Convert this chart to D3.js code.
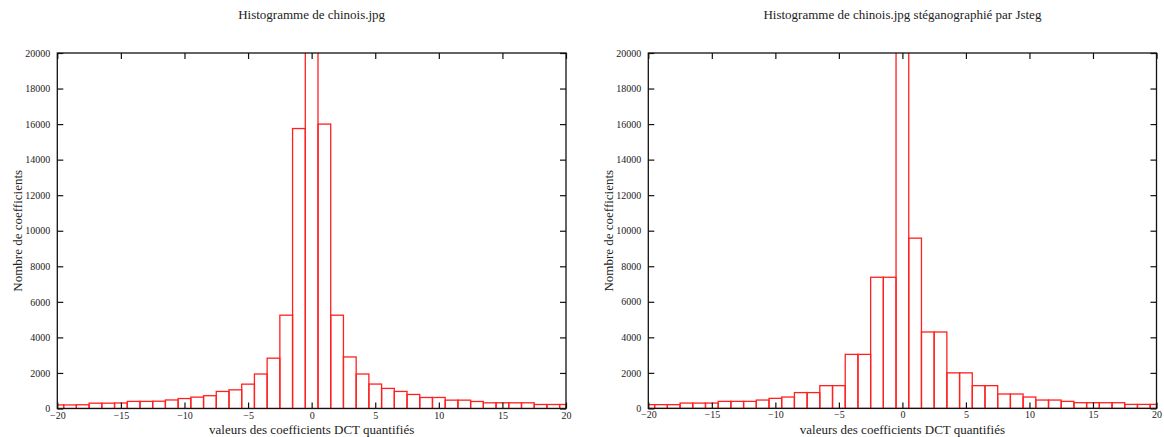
<!DOCTYPE html>
<html>
<head>
<meta charset="utf-8">
<script src="https://cdn.jsdelivr.net/npm/d3@7"></script>
<style>
  body { margin: 0; background: #fff; }
  svg { display: block; }
  text { font-family: "Liberation Serif", "DejaVu Serif", serif; fill: #222; }
</style>
</head>
<body>
<svg id="chart" width="1164" height="437"></svg>
<script>
// DCT coefficient values (bin centres)
const coefficientValues = [-20,-19,-18,-17,-16,-15,-14,-13,-12,-11,-10,-9,-8,-7,-6,-5,-4,-3,-2,-1,0,
  1,2,3,4,5,6,7,8,9,10,11,12,13,14,15,16,17,18,19,20];

// Counts for the original image (bin 0 goes far beyond the axis range)
const originalCounts = [200,200,210,300,300,310,400,400,410,480,560,640,720,960,1050,1370,1940,2830,5250,15750,42000,
  16000,5250,2900,1940,1375,1130,960,790,620,620,470,470,395,320,320,320,320,225,225,225];

// Counts after Jsteg embedding
const jstegCounts = [210,210,210,300,300,300,395,395,395,470,565,640,890,890,1280,1280,3040,3040,7380,7380,42000,
  9580,4300,4300,2000,2000,1280,1280,810,810,640,470,470,395,320,320,320,320,225,225,225];

const xTicks = [-20,-15,-10,-5,0,5,10,15,20];
const yTicks = [0,2000,4000,6000,8000,10000,12000,14000,16000,18000,20000];

const titles = ["Histogramme de chinois.jpg", "Histogramme de chinois.jpg stéganographié par Jsteg"];
const xLabel = "valeurs des coefficients DCT quantifiés";
const yLabel = "Nombre de coefficients";

const svg = d3.select("#chart");

const panels = [
  { counts: originalCounts, title: titles[0], x0: 57.3, x1: 566, y0: 408.5, y1: 53, id: "c1" },
  { counts: jstegCounts, title: titles[1], x0: 648.3, x1: 1156.5, y0: 408.4, y1: 53, id: "c2" }
];

const fmtMinus = d => (d < 0 ? "\u2212" + Math.abs(d) : String(d));

panels.forEach(p => {
  const x = d3.scaleLinear().domain([-20, 20]).range([p.x0, p.x1]);
  const y = d3.scaleLinear().domain([0, 20000]).range([p.y0, p.y1]);
  const g = svg.append("g");

  g.append("clipPath").attr("id", p.id)
    .append("rect").attr("x", p.x0).attr("y", p.y1)
    .attr("width", p.x1 - p.x0).attr("height", p.y0 - p.y1);

  const bins = coefficientValues.map((v, i) => ({
    lo: Math.max(-20, v - 0.5), hi: Math.min(20, v + 0.5), n: p.counts[i]
  }));

  g.append("g").attr("clip-path", `url(#${p.id})`)
    .selectAll("rect").data(bins).join("rect")
    .attr("x", d => x(d.lo))
    .attr("width", d => x(d.hi) - x(d.lo))
    .attr("y", d => y(d.n))
    .attr("height", d => y(0) - y(d.n))
    .attr("fill", "none")
    .attr("stroke", "#ff2020")
    .attr("stroke-width", 1.3);

  // axes: ticks pointing inward
  const styleAxis = sel => {
    sel.select(".domain").remove();
    sel.selectAll(".tick line").attr("stroke", "#111").attr("stroke-width", 1.2);
    sel.selectAll(".tick text").attr("font-size", 10).attr("font-family", "Liberation Serif").attr("fill", "#222");
  };

  g.append("g").attr("transform", `translate(0,${p.y0})`)
    .call(d3.axisBottom(x).tickValues(xTicks).tickSize(-6).tickFormat(fmtMinus))
    .call(styleAxis)
    .selectAll(".tick text").attr("dy", null).attr("y", 10);

  g.append("g").attr("transform", `translate(0,${p.y1})`)
    .call(d3.axisTop(x).tickValues(xTicks).tickSize(-6).tickFormat(""))
    .call(styleAxis);

  g.append("g").attr("transform", `translate(${p.x0},0)`)
    .call(d3.axisLeft(y).tickValues(yTicks).tickSize(-6).tickPadding(7).tickFormat(d3.format("d")))
    .call(styleAxis);

  g.append("g").attr("transform", `translate(${p.x1},0)`)
    .call(d3.axisRight(y).tickValues(yTicks).tickSize(-6).tickFormat(""))
    .call(styleAxis);

  // frame
  g.append("rect").attr("x", p.x0).attr("y", p.y1)
    .attr("width", p.x1 - p.x0).attr("height", p.y0 - p.y1)
    .attr("fill", "none").attr("stroke", "#111").attr("stroke-width", 1.3);

  const cx = (p.x0 + p.x1) / 2;
  g.append("text").attr("x", cx).attr("y", 19).attr("text-anchor", "middle")
    .attr("font-size", 13).text(p.title);

  g.append("text").attr("x", cx).attr("y", 433.5).attr("text-anchor", "middle")
    .attr("font-size", 13).text(xLabel);

  g.append("text")
    .attr("transform", `translate(${p.x0 - 35},${(p.y0 + p.y1) / 2}) rotate(-90)`)
    .attr("text-anchor", "middle").attr("font-size", 13).text(yLabel);
});
</script>
</body>
</html>
